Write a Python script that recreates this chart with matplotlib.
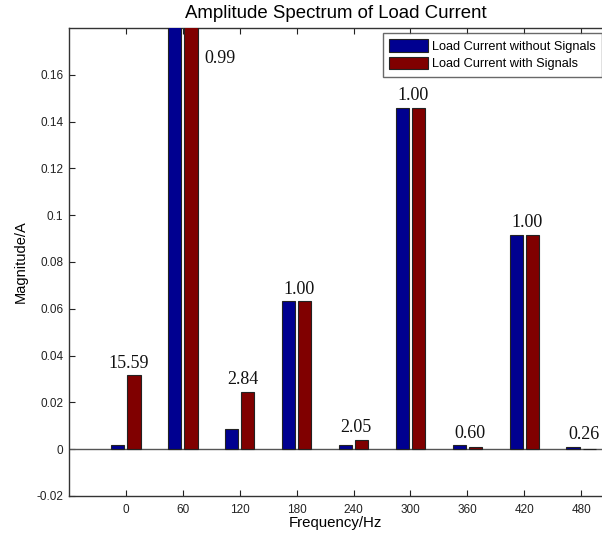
import matplotlib
matplotlib.use("Agg")
import matplotlib.pyplot as plt
import numpy as np

freqs = [0, 60, 120, 180, 240, 300, 360, 420, 480]
without_signals = [0.0020, 0.75, 0.0086, 0.0633, 0.0019, 0.1459, 0.0017, 0.0916, 0.0010]
with_signals = [0.0317, 0.74, 0.0245, 0.0633, 0.0040, 0.1459, 0.0010, 0.0916, 0.00026]
ratio_labels = ["15.59", "0.99", "2.84", "1.00", "2.05", "1.00", "0.60", "1.00", "0.26"]
yticks = [-0.02, 0, 0.02, 0.04, 0.06, 0.08, 0.1, 0.12, 0.14, 0.16]
ytick_labels = ["-0.02", "0", "0.02", "0.04", "0.06", "0.08", "0.1", "0.12", "0.14", "0.16"]

blue = "#000090"
red = "#800000"
sans = ["Liberation Sans", "DejaVu Sans"]
serif = ["Liberation Serif", "DejaVu Serif"]

fig = plt.figure(figsize=(6.02, 5.40), dpi=100)
ax = fig.add_axes([69/602, 1 - 496/540, 1 - 69/602, (496 - 28)/540])

x = np.array(freqs, dtype=float)
bw = 14.0
off = 8.5
ax.bar(x - off, without_signals, width=bw, color=blue, edgecolor="#222222", linewidth=0.8,
       label="Load Current without Signals", zorder=3)
ax.bar(x + off, with_signals, width=bw, color=red, edgecolor="#222222", linewidth=0.8,
       label="Load Current with Signals", zorder=3)

ax.axhline(0, color="#555555", linewidth=1.0, zorder=2)

ax.set_xlim(-60, 502)
ax.set_ylim(-0.02, 0.18)
ax.set_xticks(freqs)
ax.set_xticklabels([str(f) for f in freqs], fontfamily=sans, fontsize=8.5)
ax.set_yticks(yticks)
ax.set_yticklabels(ytick_labels, fontfamily=sans, fontsize=8.5)
ax.tick_params(direction="in", top=True, right=False, length=4, width=0.8, colors="#222222")
ax.tick_params(axis="y", pad=4)
ax.tick_params(axis="x", pad=6)
for lbl in ax.get_xticklabels() + ax.get_yticklabels():
    lbl.set_color("#222222")
for s in ["left", "bottom", "top"]:
    ax.spines[s].set_color("#333333")
    ax.spines[s].set_linewidth(1.0)
ax.spines["right"].set_visible(False)

# ratio labels
for i, f in enumerate(freqs):
    top = max(without_signals[i], with_signals[i])
    if top > 0.18:
        ax.text(f + 23, 0.167, ratio_labels[i], ha="left", va="center",
                fontfamily=serif, fontsize=13, color="#111111")
    else:
        ax.annotate(ratio_labels[i], xy=(f + 3, top), xytext=(0, 2.5), textcoords="offset points",
                    ha="center", va="bottom", fontfamily=serif, fontsize=13, color="#111111")

ax.set_title("Amplitude Spectrum of Load Current", fontfamily=sans, fontsize=13.4, pad=7)
ax.set_xlabel("Frequency/Hz", fontfamily=sans, fontsize=10.8, labelpad=0)
ax.set_ylabel("Magnitude/A", fontfamily=sans, fontsize=10.5, labelpad=6)

leg = fig.legend(loc="upper left", bbox_to_anchor=(383/602, 1 - 33/540), prop={"family": sans, "size": 9.2},
                 frameon=True, fancybox=False, handlelength=3.05, handleheight=1.1, borderaxespad=0,
                 borderpad=0.5, labelspacing=0.3, handletextpad=0.3)
leg.get_frame().set_edgecolor("#444444")
leg.get_frame().set_linewidth(1.0)

fig.savefig("out.png", dpi=100)
